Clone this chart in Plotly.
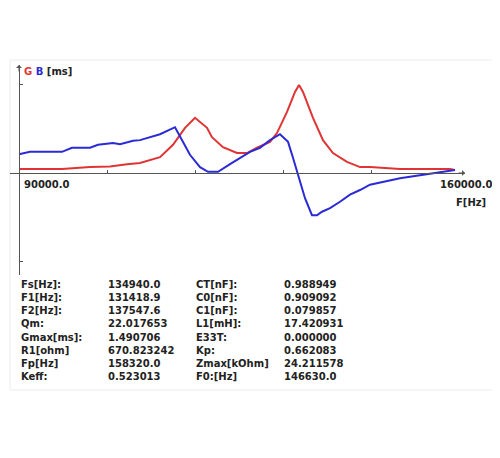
import plotly.graph_objects as go

# sweep frequencies (Hz) and admittance readings (ms)
freq_b = [90000, 91750, 96840, 98430, 101300, 102570, 104950, 106070, 108140,
          109250, 112430, 114500, 114820, 117200, 118800, 120070, 121660,
          123570, 126750, 128340, 129930, 131520, 132800, 133590, 134390,
          135500, 136610, 137410, 138200, 139480, 141070, 142660, 144250,
          145840, 150610, 154270, 158570, 159360]
susceptance = [0.32, 0.36, 0.36, 0.43, 0.43, 0.48, 0.51, 0.49, 0.55,
               0.56, 0.66, 0.77, 0.78, 0.31, 0.10, 0.02, 0.02,
               0.15, 0.36, 0.43, 0.56, 0.66, 0.53, 0.26, -0.03,
               -0.43, -0.72, -0.72, -0.66, -0.60, -0.49, -0.37, -0.29,
               -0.20, -0.09, -0.03, 0.03, 0.05]

freq_g = [90000, 96840, 101300, 104480, 107180, 109250, 112430, 114500,
          116410, 118000, 119910, 120700, 122450, 124680, 126270, 127860,
          129930, 131040, 132640, 133910, 134550, 135180, 136770, 138360,
          139950, 142180, 144250, 145840, 150610, 158570, 159360]
conductance = [0.07, 0.07, 0.10, 0.11, 0.15, 0.17, 0.27, 0.48,
               0.77, 0.94, 0.77, 0.61, 0.44, 0.34, 0.34, 0.43,
               0.53, 0.68, 1.04, 1.38, 1.50, 1.38, 0.94, 0.56,
               0.34, 0.19, 0.10, 0.10, 0.07, 0.07, 0.05]

x_ticks = [104000, 118000, 132000, 146000]
y_ticks = [1.5, -1.5]
f_start, f_end = 90000, 160000

# results table (4 columns)
names_left = ["Fs[Hz]:", "F1[Hz]:", "F2[Hz]:", "Qm:", "Gmax[ms]:",
              "R1[ohm]", "Fp[Hz]", "Keff:"]
values_left = ["134940.0", "131418.9", "137547.6", "22.017653", "1.490706",
               "670.823242", "158320.0", "0.523013"]
names_right = ["CT[nF]:", "C0[nF]:", "C1[nF]:", "L1[mH]:", "E33T:",
               "Kp:", "Zmax[kOhm]", "F0:[Hz]"]
values_right = ["0.988949", "0.909092", "0.079857", "17.420931", "0.000000",
                "0.662083", "24.211578", "146630.0"]

# page has an 8px body margin, so the figure is a bit smaller than the window
OFF = 8
W, H = 500 - OFF, 458 - OFF


def px(x):
    return (x - OFF) / W


def py(y):
    return 1 - (y - OFF) / H


txt = "#222222"
axc = "#555555"
font = dict(family="DejaVu Sans", size=10, color=txt)

fig = go.Figure()
fig.add_trace(go.Scatter(x=freq_g, y=conductance, mode="lines",
                         line=dict(color="#e03434", width=2), name="G"))
fig.add_trace(go.Scatter(x=freq_b, y=susceptance, mode="lines",
                         line=dict(color="#2a2ad6", width=2), name="B"))

fig.update_xaxes(domain=[px(10), px(465)], range=[88568, 160955],
                 anchor="free", position=py(173),
                 showline=True, linecolor=axc, linewidth=1,
                 showgrid=False, zeroline=False,
                 ticks="inside", ticklen=3, tickcolor=axc,
                 tickvals=x_ticks, showticklabels=False)
fig.update_yaxes(domain=[py(275), py(65)], range=[-1.738, 1.840],
                 anchor="free", position=px(19),
                 showline=True, linecolor=axc, linewidth=1,
                 showgrid=False, zeroline=False,
                 ticks="inside", ticklen=3, tickcolor=axc,
                 tickvals=y_ticks, showticklabels=False)

ann = []
# arrow heads on the axes
ann.append(dict(x=160955, y=0, xref="x", yref="y", ax=-8, ay=0, text="",
                showarrow=True, arrowhead=1, arrowsize=1, arrowwidth=1,
                arrowcolor=axc))
ann.append(dict(x=f_start, y=1.840, xref="x", yref="y", ax=0, ay=8,
                text="", showarrow=True, arrowhead=1, arrowsize=1,
                arrowwidth=1, arrowcolor=axc))
ann.append(dict(x=f_start, y=0, xref="x", yref="y",
                text="<b>%.1f</b>" % f_start,
                xanchor="left", yanchor="middle", xshift=3, yshift=-12,
                showarrow=False, font=font))
ann.append(dict(x=f_end, y=0, xref="x", yref="y",
                text="<b>%.1f</b>" % f_end,
                xanchor="center", yanchor="middle", xshift=7, yshift=-12,
                showarrow=False, font=font))
ann.append(dict(x=f_end, y=0, xref="x", yref="y", text="<b>F[Hz]</b>",
                xanchor="center", yanchor="middle", xshift=12, yshift=-30,
                showarrow=False, font=font))
ann.append(dict(x=px(22), y=py(71), xref="paper", yref="paper",
                text="<b><span style='color:#e03434'>G</span> "
                     "<span style='color:#2a2ad6'>B</span> [ms]</b>",
                xanchor="left", yanchor="middle", showarrow=False,
                font=font))

row0, step = 284.3, 13.2
cols = [(19, names_left), (106, values_left), (194, names_right),
        (282, values_right)]
for cx, items in cols:
    for i, s in enumerate(items):
        ann.append(dict(x=px(cx), y=py(row0 + i * step),
                        xref="paper", yref="paper", text="<b>%s</b>" % s,
                        xanchor="left", yanchor="middle", showarrow=False,
                        font=font))

fig.update_layout(
    width=W, height=H, margin=dict(l=0, r=0, t=0, b=0),
    paper_bgcolor="white", plot_bgcolor="rgba(0,0,0,0)",
    showlegend=False, annotations=ann,
    shapes=[dict(type="rect", xref="paper", yref="paper",
                 x0=px(10), x1=px(493), y0=py(390), y1=py(60),
                 line=dict(color="#ececec", width=1), layer="below")],
)

fig.write_html("out.html")
